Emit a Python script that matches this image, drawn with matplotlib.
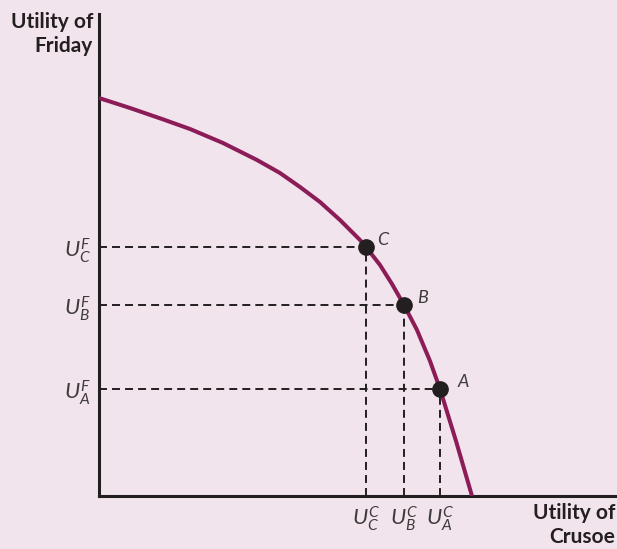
import matplotlib
matplotlib.use("Agg")
from matplotlib import pyplot as plt

# frontier (utility of Crusoe, utility of Friday)
frontier_x = [0, 31, 63, 91, 124, 158, 181, 201, 221, 241, 261, 267, 281, 293, 305, 318, 331, 341, 357, 373]
frontier_y = [398, 388, 377, 367, 353, 336, 323, 309, 294, 276, 256, 249, 231, 212, 191, 166, 135, 107, 55, 0]

point_names = ["C", "B", "A"]
crusoe_pts = [267, 305, 341]
friday_pts = [249, 191, 107]
label_dx = [11, 13, 18]

x_labels = [r"$U_C^C$", r"$U_B^C$", r"$U_A^C$"]
y_labels = [r"$U_C^F$", r"$U_B^F$", r"$U_A^F$"]

bg = "#f2e4ec"
curve_col = "#8c1c58"
ink = "#231f20"
grey = "#3d3b3c"

plt.rcParams["font.family"] = ["Lato", "DejaVu Sans"]
plt.rcParams["mathtext.fontset"] = "custom"
plt.rcParams["mathtext.it"] = "Lato:italic"
plt.rcParams["mathtext.rm"] = "Lato"

fig = plt.figure(figsize=(6.17, 5.49), dpi=100, facecolor=bg)
ax = fig.add_axes([99 / 617, 53 / 549, 518 / 617, 482 / 549])
ax.set_facecolor(bg)
ax.set_xlim(0, 518)
ax.set_ylim(0, 482)

for s in ["top", "right"]:
    ax.spines[s].set_visible(False)
for s in ["left", "bottom"]:
    ax.spines[s].set_linewidth(2.2)
    ax.spines[s].set_color(ink)

ax.plot(frontier_x, frontier_y, color=curve_col, lw=2.9, solid_joinstyle="round",
        solid_capstyle="butt", zorder=3)

for name, cx, fy, dx in zip(point_names, crusoe_pts, friday_pts, label_dx):
    ax.plot([0, cx], [fy, fy], ls=(0, (4.1, 2.6)), color=ink, lw=1.4, zorder=2)
    ax.plot([cx, cx], [0, fy], ls=(0, (4.1, 2.6)), color=ink, lw=1.4, zorder=2)
    ax.plot(cx, fy, "o", color=ink, ms=11, zorder=4)
    ax.annotate(name, (cx, fy), xytext=(dx, 7), textcoords="offset pixels",
                fontsize=13, style="italic", color=grey, ha="left", va="center")

ax.set_xticks(crusoe_pts)
ax.set_xticklabels(x_labels, fontsize=16, color=grey)
ax.set_yticks(friday_pts)
ax.set_yticklabels(y_labels, fontsize=16, color=grey)
ax.tick_params(length=0, pad=6)

fig.text(93 / 617, 1 - 12 / 549, "Utility of\nFriday", ha="right", va="top",
         fontsize=15, fontweight="bold", color=ink, linespacing=1.25)
fig.text(615 / 617, 2 / 549, "Utility of\nCrusoe", ha="right", va="bottom",
         fontsize=15, fontweight="bold", color=ink, linespacing=1.25)

fig.savefig("out.png", dpi=100, facecolor=bg)
